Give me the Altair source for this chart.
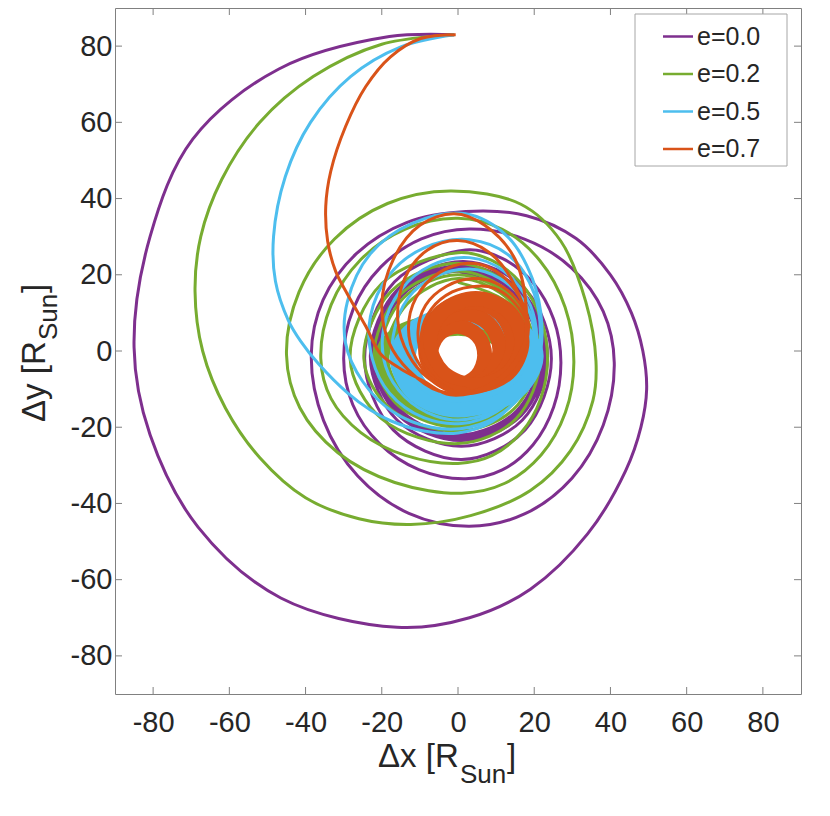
import altair as alt
import pandas as pd

series = ["e=0.0", "e=0.2", "e=0.5", "e=0.7"]
colors = ["#7E2F8E", "#77AC30", "#4DBEEE", "#D95319"]
x_ticks = [-80, -60, -40, -20, 0, 20, 40, 60, 80]
y_ticks = [-80, -60, -40, -20, 0, 20, 40, 60, 80]

# e=0.0 (purple) trajectory
purple_x = [-1, -18, -47, -69.6, -80.8, -85, -80.8, -68.2, -46.5, -16, 3, 19, 34, 44, 48, 49.5, 48.5, 45.5, 40, 31, 18,
            2, -13.5, -26.6, -35.4, -38.5, -35.3, -26.3, -12.9, 3, 17.6, 29.9, 38.1, 41, 38.1, 29.9, 17.6,
            3, -9.6, -20.3, -27.5, -30, -27.6, -20.6, -10.3, 2, 11.6, 19.7, 25.1, 27, 25.1, 19.7, 11.6,
            2, -16.7, -24.5, -17, 1, 17.6, 24.5, 17.8,
            1.5, -15.8, -23, -16, 1, 16.9, 23.5, 16.9,
            1, -15.6, -22.5, -15.6, 1, 16.6, 23, 16.6,
            1, -15.3, -22, -15.3, 1, 16.2, 22.5, 16.1,
            0.5, -15.1, -21.5, -15.1, 0.5, 15.7, 22, 15.7,
            0.5, -14.7, -21, -14.7, 0.5, 15.3, 21.5, 15.2, 0.5]
purple_y = [83, 82.5, 74, 55.6, 30, 1, -22, -46.2, -64.8, -72.5, -70, -62.5, -48, -31.4, -20, -10, 0, 10, 20, 29.5, 35.5,
            36.6, 33.7, 25.6, 13.4, -1, -18.2, -32.8, -42.6, -46, -42.7, -33.4, -19.5, -3, 10.4, 21.7, 29.3,
            32, 29.4, 22, 11, -2, -14.1, -24.3, -31.1, -33.5, -31.2, -24.6, -14.7, -3, 8.3, 17.9, 24.3,
            26.5, 18.1, -2, -20.7, -28.5, -20.7, -2, 16,
            23.5, 16.2, -1.5, -18.1, -25, -18.1, -1.5, 15.5,
            22.5, 15.6, -1, -16.9, -23.5, -16.9, -1, 15.3,
            22, 15.3, -1, -16.6, -23, -16.6, -1, 14.9,
            21.5, 14.9, -1, -16.2, -22.5, -16.2, -1, 14.6,
            21, 14.6, -1, -15.8, -22, -15.8, -1, 14.3, 20.8]

# e=0.2 (green)
green_x = [-1, -20, -38, -52, -62, -67.5, -69, -67, -61, -52, -40, -26, -12.4, 3.3, 19, 29.5, 35.4, 36.2, 33.5, 27, 16.5,
           -2, -18.5, -32.4, -41.7, -45, -41.5, -31.5, -16.6, 1, 12.3, 21.8, 28.2, 30.4, 28.1, 21.5, 11.6,
           0, -13.8, -25.5, -33.3, -36, -33.3, -25.5, -13.8, 0, 9, 16.6, 21.7, 23.5, 21.7, 16.6, 9,
           0, -20, -28.3, -20, 0, 15.2, 21.5, 15.2,
           0, -17.5, -24.7, -17.5, 0, 14.5, 20.5, 14.5,
           0, -15.6, -22, -15.6, 0, 14.1, 20, 14.1,
           0, -14.5, -20.5, -14.5, 0, 13.8, 19.5, 13.8,
           0, -13.4, -19, -13.4, 0, 13.4, 19, 13.4, 0]
green_y = [83, 80.5, 72, 60, 45, 30, 15.7, 0, -15, -28, -38.5, -44, -45.5, -43.2, -36.6, -26.2, -13, -2.6, 13, 28.8, 38.5,
           42, 38.7, 29.4, 15.5, -1, -14.9, -26.7, -34.5, -37.3, -34.7, -27.3, -16.1, -3, 11.5, 23.7, 31.9,
           34.8, 32, 24, 12.1, -2, -12.5, -21.4, -27.4, -29.5, -27.4, -21.4, -12.5, -2, 8.6, 17.7, 23.7,
           25.8, 17.7, -2, -17.8, -24.3, -17.8, -2, 15.7,
           23, 15.7, -2, -15.4, -21, -15.4, -2, 14.3,
           21, 14.4, -1.5, -14.2, -19.5, -14.2, -1.5, 13.7,
           20, 13.7, -1.5, -13.5, -18.5, -13.5, -1.5, 13,
           19, 12.3, -1.5, -12.9, -17.5, -12.9, -1.5, 12.3, 18]
green_core_x = [[0, -14, -20, -14.1, 0, 11.3, 16, 11.3],
                [0, -11, -15.5, -11, 0, 9.9, 14, 9.9]]
green_core_y = [[8, 5.5, -2, -13.6, -18.5, -13.6, -2, 5.1],
                [6, 3.5, -2.5, -11.7, -15.5, -11.7, -2.5, 3.5]]

# e=0.5 (blue)
blue_x = [-1, -15, -28.2, -38.7, -45.3, -48.4, -47.9, -44.5, -41.3, -36.5,
          -29, -23, -17.7, -9, 0, 9, 16, 21, 22, 19.5,
          13, 2, -12, -23, -29, -29.5, -25, -17, -7, 3,
          12, 19, 21.5, 20, 13.5, 3, -9, -18, -23, -22.5,
          -18, -9, 1, 10, 17, 20.5, 19, 12, 3, -7,
          -15, -19.5, -19, -14, -6, 2, 11, 17.5, 20, 18,
          11, 3, -6, -13, -17, -16.5, -12, -5, 2]
blue_y = [83, 79.8, 72, 60, 45.8, 30, 18.3, 8, 2.6, -3.5,
          -11, -15.5, -18.3, -21, -21.5, -18.5, -12, -3, 7, 19,
          30, 36, 33.5, 25.5, 13, 2, -8, -16, -20, -20,
          -16, -8, 2, 15, 25, 29.2, 27, 20, 9, -2,
          -11, -17.5, -19, -16, -9, 1, 12, 21, 24.5, 22.5,
          16, 6, -4, -12, -17, -18, -14.5, -7, 2, 12,
          19, 21.5, 19.5, 14, 4, -5, -12, -16, -17]
blue_core_x = [[2, -8.6, -13, -9.2, 0, 13.4, 19, 14],
               [2, -10.7, -16, -11.3, 0, 14.5, 20.5, 15.1]]
blue_core_y = [[8, 5.4, -1, -9.8, -13.5, -9.8, -1, 5.4],
               [10, 6.6, -1.5, -11.4, -15.5, -11.4, -1.5, 6.6]]

# e=0.7 (orange)
orange_x = [-0.6, -9.8, -17.7, -24.2, -29.5, -33.4, -34.7, -34.2, -32.1, -29, -24.2, -20.3, -15, -9,
            -2, 9, 16.5, 18, 15, 7, -1, -10, -17, -20, -18, -13,
            -5, 5, 14, 18, 15, 8, 0, -8, -14, -15.8, -13, -8,
            0, 9, 16, 18.5, 15, 9, 2.5, -5, -11, -13, -11, -6,
            2, 10, 16, 18.5, 15, 9.5, 4, -3, -8.5, -10.5, -9, -4,
            3, 11, 16.5, 18, 14.5, 9.5, 5, -1.5, -7, -9.5, -8.5, -4, 3]
orange_y = [83, 82, 77.2, 69.4, 58.9, 47.1, 38, 28.8, 20.9, 14.9, 6.5, -0.8, -4.7, -7.9,
            -11.5, -9, -1, 9, 24, 33, 36, 33, 24, 12, 2, -5,
            -10.5, -10.5, -5, 5, 17, 26, 29, 26.5, 19, 8, -1, -7,
            -11, -9, -2, 7, 16, 21.5, 23, 20.5, 14, 6, -2, -8,
            -11, -8, -1, 7, 14, 18, 19, 17, 12, 5, -2, -8,
            -10.5, -7, 0, 7, 13, 16.5, 17, 15.5, 11, 5, -2, -8, -10]
orange_core_x = [[-0.2, -5.2, -7.3, -5.2, 0, 5, 7, 5.1],
                 [1.25, -5.6, -8.5, -5.6, 1.25, 8.1, 11, 8.1],
                 [3.1, -5, -8.3, -5, 3.1, 11.2, 14.5, 11.2],
                 [4.65, -3.9, -7.5, -3.9, 4.65, 13.2, 16.8, 13.2]]
orange_core_y = [[6.5, 4.2, -1.2, -6.7, -8.9, -6.5, -1.2, 4.1],
                 [10, 7.1, 0.25, -6.6, -9.5, -6.6, 0.25, 7.1],
                 [13, 9.7, 1.75, -6.2, -9.5, -6.2, 1.75, 9.7],
                 [13.8, 10.5, 2.4, -5.7, -9, -5.7, 2.4, 10.5]]

W = 686
H = 686
FONT = "Liberation Sans"
TXT = "#262626"
FRAME = "#808080"
THIN = 3
THICK = 15

xscale = alt.Scale(domain=[-90, 90], nice=False, zero=False)
yscale = alt.Scale(domain=[-90, 90], nice=False, zero=False)
cscale = alt.Scale(domain=series, range=colors)
xaxis = alt.Axis(values=x_ticks, labelExpr="toString(datum.value)", labelFont=FONT, labelFontSize=29,
                 labelColor=TXT, ticks=False, domain=False, grid=False, labelPadding=14, title=None,
                 labelFlush=False, labelOverlap=False)
yaxis = alt.Axis(values=y_ticks, labelExpr="toString(datum.value)", labelFont=FONT, labelFontSize=29,
                 labelColor=TXT, ticks=False, domain=False, grid=False, labelPadding=3, title=None,
                 labelFlush=False, labelOverlap=False)


def X(f="x"):
    return alt.X(f"{f}:Q", scale=xscale, axis=xaxis)


def Y(f="y"):
    return alt.Y(f"{f}:Q", scale=yscale, axis=yaxis)


def C():
    return alt.Color("s:N", scale=cscale, legend=None)


def path_layer(xs, ys, name):
    df = pd.DataFrame({"x": xs, "y": ys, "s": name, "i": list(range(len(xs)))})
    return alt.Chart(df).mark_line(interpolate="catmull-rom", strokeWidth=THIN).encode(
        x=X(), y=Y(), color=C(), order="i:Q")


def core_layer(xss, yss, name):
    rows = []
    for k, (xs, ys) in enumerate(zip(xss, yss)):
        for j, (a, b) in enumerate(zip(xs, ys)):
            rows.append({"x": a, "y": b, "s": name, "loop": k, "i": j})
    df = pd.DataFrame(rows)
    return alt.Chart(df).mark_line(interpolate="cardinal-closed", strokeWidth=THICK).encode(
        x=X(), y=Y(), color=C(), detail="loop:N", order="i:Q")


layers = [
    path_layer(purple_x, purple_y, series[0]),
    path_layer(green_x, green_y, series[1]),
    core_layer(green_core_x, green_core_y, series[1]),
    path_layer(blue_x, blue_y, series[2]),
    core_layer(blue_core_x, blue_core_y, series[2]),
    core_layer(orange_core_x, orange_core_y, series[3]),
    path_layer(orange_x, orange_y, series[3]),
]

# inward tick marks on all four sides
xt = pd.DataFrame({"x": x_ticks})
yt = pd.DataFrame({"y": y_ticks})
layers.append(alt.Chart(xt).mark_rule(color=FRAME, strokeWidth=1).encode(x=X(), y=alt.value(H), y2=alt.value(H - 7)))
layers.append(alt.Chart(xt).mark_rule(color=FRAME, strokeWidth=1).encode(x=X(), y=alt.value(0), y2=alt.value(7)))
layers.append(alt.Chart(yt).mark_rule(color=FRAME, strokeWidth=1).encode(y=Y(), x=alt.value(0), x2=alt.value(7)))
layers.append(alt.Chart(yt).mark_rule(color=FRAME, strokeWidth=1).encode(y=Y(), x=alt.value(W), x2=alt.value(W - 7)))

# legend box
layers.append(alt.Chart(pd.DataFrame({"a": [0]})).mark_rect(fill="white", stroke="#a6a6a6", strokeWidth=1).encode(
    x=alt.value(520), x2=alt.value(672), y=alt.value(6), y2=alt.value(158)))
row_y = [28.5, 66, 103.5, 141]
for name, ry in zip(series, row_y):
    d = pd.DataFrame({"s": [name]})
    layers.append(alt.Chart(d).mark_rule(strokeWidth=2.5).encode(
        x=alt.value(548), x2=alt.value(578), y=alt.value(ry), color=C()))
    layers.append(alt.Chart(d).mark_text(align="left", baseline="middle", font=FONT, fontSize=25, color=TXT).encode(
        x=alt.value(582), y=alt.value(ry), text="s:N"))


# axis titles with subscript
def txt(t, x, y, size, angle=0):
    m = alt.Chart(pd.DataFrame({"t": [t]})).mark_text(align="left", baseline="alphabetic", font=FONT,
                                                      fontSize=size, color=TXT, angle=angle)
    return m.encode(x=alt.value(x), y=alt.value(y), text="t:N")


layers.append(txt("Δx [R", 263, 759, 33))
layers.append(txt("Sun", 345, 775, 26))
layers.append(txt("]", 392, 759, 33))
layers.append(txt("Δy [R", -70, 414, 33, 270))
layers.append(txt("Sun", -58, 332, 26, 270))
layers.append(txt("]", -70, 285, 33, 270))

chart = alt.layer(*layers).properties(
    width=W, height=H,
    autosize=alt.AutoSizeParams(type="none"),
    padding={"left": 107, "top": 0, "right": 15, "bottom": 110},
).configure_view(stroke=FRAME, strokeWidth=1)

chart.save("out.html", embed_options={"renderer": "svg", "actions": False})
